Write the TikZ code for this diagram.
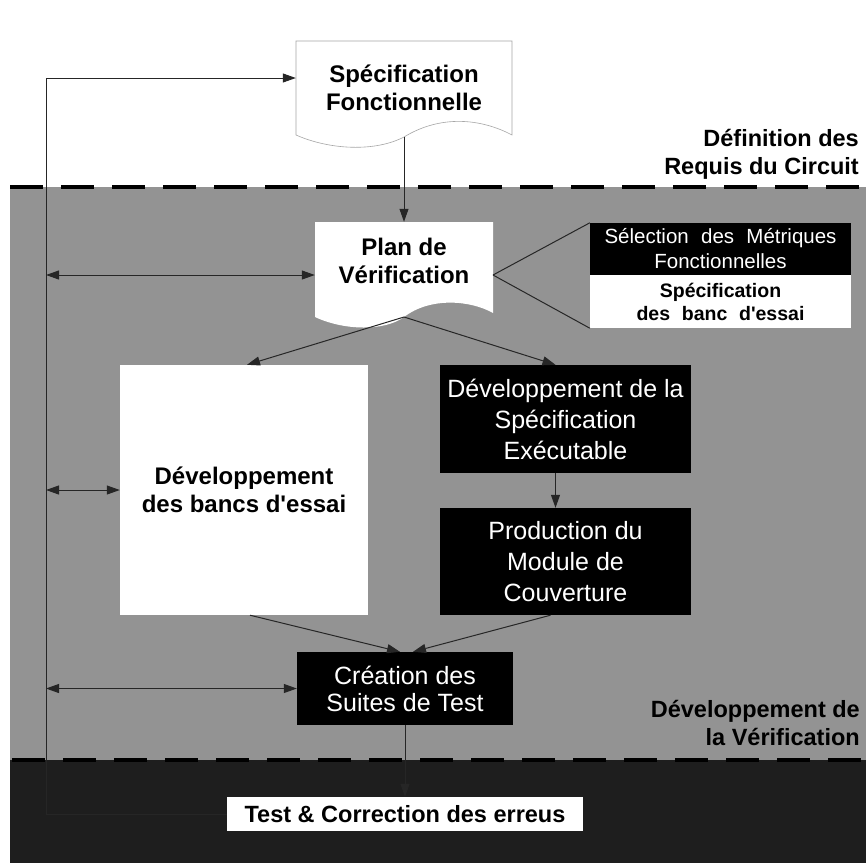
\documentclass[tikz,border=0pt]{standalone}
\usepackage{fontspec}
\setmainfont{Liberation Sans}
\usetikzlibrary{arrows.meta}
\definecolor{midband}{HTML}{939393}
\definecolor{lowband}{HTML}{1E1E1E}
\newcommand{\apos}{\textquotesingle}
\begin{document}
\begin{tikzpicture}[x=1pt,y=-1pt,
  conn/.style={line width=1pt, draw=black!85},
  arr/.style={conn, -{Triangle[length=13pt,width=9pt]}},
  dblarr/.style={conn, {Triangle[length=13pt,width=9pt]}-{Triangle[length=13pt,width=9pt]}},
  bandline/.style={line width=4.5pt, draw=black, dash pattern=on 33pt off 18pt},
  whitebox/.style={rectangle, fill=white, inner sep=0pt, align=center,
    font=\fontsize{24}{28}\selectfont\bfseries},
  blackbox/.style={rectangle, fill=black, text=white, inner sep=0pt, align=center,
    font=\fontsize{25}{31}\selectfont},
  doctext/.style={rectangle, inner sep=0pt, align=center,
    font=\fontsize{24}{27.5}\selectfont\bfseries},
  docshape/.style={fill=white},
  bandlabel/.style={anchor=east, align=right, inner sep=0pt,
    font=\fontsize{23.5}{28}\selectfont\bfseries},
]
\useasboundingbox (0,0) rectangle (866,863);

% phase bands
\fill[white] (0,0) rectangle (866,863);
\fill[midband] (10,187) rectangle (866,760);
\fill[lowband] (10,760) rectangle (866,863);
\draw[bandline] (10,187) -- (866,187);
\draw[bandline] (12,760) -- (866,760);

% band titles
\node[bandlabel] (lblreq) at (859,154) {Définition des\\Requis du Circuit};
\node[bandlabel] (lblver) at (860,723) {Développement de\\la Vérification};

% document-shaped steps
\path[docshape, draw=gray!70, line width=0.6pt] (296,41) -- (512,41) -- (512,135)
  .. controls (480,118) and (440,115) .. (404,137)
  .. controls (375,152) and (330,150) .. (296,135) -- cycle;
\node[doctext, minimum width=216pt, minimum height=94pt] (spec) at (404,88)
  {Spécification\\Fonctionnelle};
\coordinate (specB) at (404,137);

\path[docshape] (315,222) -- (493,222) -- (493,313)
  .. controls (470,300) and (430,297) .. (404,317)
  .. controls (385,331) and (345,331) .. (315,317) -- cycle;
\node[doctext, minimum width=178pt, minimum height=78pt] (plan) at (404,261)
  {Plan de\\Vérification};
\coordinate (planB) at (404,317);
\coordinate (planR) at (493,275);

% plan contents
\node[blackbox, font=\fontsize{20.5}{25}\selectfont, minimum width=261pt, minimum height=52pt]
  (sel) at (720.5,249) {Sélection\hspace{0.6em}des\hspace{0.6em}Métriques\\Fonctionnelles};
\node[whitebox, font=\fontsize{19.5}{23}\selectfont\bfseries, minimum width=261pt, minimum height=53pt]
  (essai) at (720.5,301.5) {Spécification\\des\hspace{0.6em}banc\hspace{0.6em}d\apos essai};

% development steps
\node[whitebox, minimum width=248pt, minimum height=250pt] (devbanc) at (244,490)
  {Développement\\des bancs d\apos essai};
\node[blackbox, minimum width=251pt, minimum height=108pt] (devspec) at (565.5,419)
  {Développement de la\\Spécification\\Exécutable};
\node[blackbox, minimum width=251pt, minimum height=107pt] (prod) at (565.5,561.5)
  {Production du\\Module de\\Couverture};
\node[blackbox, font=\fontsize{25}{27}\selectfont, minimum width=216pt, minimum height=73pt]
  (crea) at (405,688.5) {Création des\\Suites de Test};
\node[whitebox, font=\fontsize{23.5}{28}\selectfont\bfseries, minimum width=356pt, minimum height=34pt]
  (test) at (405,814) {Test \& Correction des erreus};

% flow
\draw[arr] (specB) -- (plan.north);
\draw[conn] (planR) -- (sel.north west);
\draw[conn] (planR) -- (essai.south west);
\draw[arr] (planB) -- ([xshift=3pt]devbanc.north);
\draw[arr] (planB) -- ([xshift=-10pt]devspec.north);
\draw[arr] ([xshift=-10pt]devspec.south) -- ([xshift=-10pt]prod.north);
\draw[arr] ([xshift=6pt]devbanc.south) -- ([xshift=-5pt]crea.north);
\draw[arr] ([xshift=-15pt]prod.south) -- ([xshift=8pt]crea.north);
\draw[arr] (crea.south) -- (test.north);

% feedback loop
\coordinate (fbTop) at (46,78);
\coordinate (fbBot) at (46,814);
\coordinate (fbPlan) at (46,275);
\coordinate (fbBanc) at (46,490);
\coordinate (fbCrea) at (46,688.5);
\draw[arr] (test.west) -- (fbBot) -- (fbTop) -- (spec.west |- fbTop);
\draw[dblarr] (fbPlan) -- (fbPlan -| plan.west);
\draw[dblarr] (fbBanc) -- (devbanc.west);
\draw[dblarr] (fbCrea) -- (crea.west);
\end{tikzpicture}
\end{document}
